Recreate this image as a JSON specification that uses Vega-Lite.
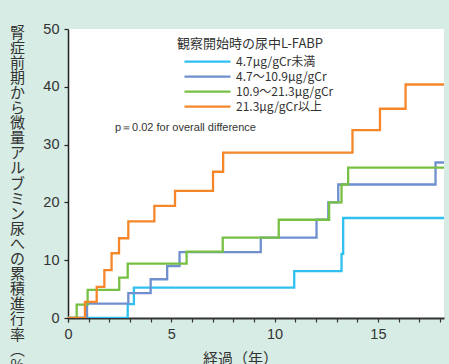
{
  "$schema": "https://vega.github.io/schema/vega-lite/v6.json",
  "autosize": "none",
  "width": 376,
  "height": 289,
  "padding": {"left": 68, "top": 29, "right": 5, "bottom": 46},
  "background": "#d7ece4",
  "config": {
    "view": {"fill": "white", "stroke": null},
    "font": "Liberation Sans"
  },
  "resolve": {"axis": {"x": "independent"}},
  "layer": [
    {
      "data": {
        "values": [
          {"group": "4.7μg/gCr未満", "t": 0, "v": 0},
          {"group": "4.7μg/gCr未満", "t": 2.89, "v": 2.4},
          {"group": "4.7μg/gCr未満", "t": 3.19, "v": 5.25},
          {"group": "4.7μg/gCr未満", "t": 10.95, "v": 8.1},
          {"group": "4.7μg/gCr未満", "t": 13.24, "v": 11.1},
          {"group": "4.7μg/gCr未満", "t": 13.32, "v": 17.3},
          {"group": "4.7μg/gCr未満", "t": 18.2, "v": 17.3},
          {"group": "4.7〜10.9μg/gCr", "t": 0, "v": 0},
          {"group": "4.7〜10.9μg/gCr", "t": 0.92, "v": 2.5},
          {"group": "4.7〜10.9μg/gCr", "t": 2.92, "v": 4.3},
          {"group": "4.7〜10.9μg/gCr", "t": 4.0, "v": 6.7},
          {"group": "4.7〜10.9μg/gCr", "t": 4.8, "v": 9.0},
          {"group": "4.7〜10.9μg/gCr", "t": 5.4, "v": 11.4},
          {"group": "4.7〜10.9μg/gCr", "t": 9.33, "v": 13.9},
          {"group": "4.7〜10.9μg/gCr", "t": 12.03, "v": 17.0},
          {"group": "4.7〜10.9μg/gCr", "t": 12.6, "v": 20.0},
          {"group": "4.7〜10.9μg/gCr", "t": 13.08, "v": 23.1},
          {"group": "4.7〜10.9μg/gCr", "t": 17.79, "v": 26.9},
          {"group": "4.7〜10.9μg/gCr", "t": 18.2, "v": 26.9},
          {"group": "10.9〜21.3μg/gCr", "t": 0, "v": 0},
          {"group": "10.9〜21.3μg/gCr", "t": 0.42, "v": 2.3},
          {"group": "10.9〜21.3μg/gCr", "t": 0.95, "v": 4.85},
          {"group": "10.9〜21.3μg/gCr", "t": 2.48, "v": 7.0},
          {"group": "10.9〜21.3μg/gCr", "t": 2.89, "v": 9.4},
          {"group": "10.9〜21.3μg/gCr", "t": 5.74, "v": 11.5},
          {"group": "10.9〜21.3μg/gCr", "t": 7.49, "v": 13.9},
          {"group": "10.9〜21.3μg/gCr", "t": 10.2, "v": 17.0},
          {"group": "10.9〜21.3μg/gCr", "t": 12.64, "v": 20.0},
          {"group": "10.9〜21.3μg/gCr", "t": 13.24, "v": 23.1},
          {"group": "10.9〜21.3μg/gCr", "t": 13.56, "v": 26.0},
          {"group": "10.9〜21.3μg/gCr", "t": 18.2, "v": 26.0},
          {"group": "21.3μg/gCr以上", "t": 0, "v": 0},
          {"group": "21.3μg/gCr以上", "t": 0.82, "v": 2.8},
          {"group": "21.3μg/gCr以上", "t": 1.39, "v": 5.4},
          {"group": "21.3μg/gCr以上", "t": 1.76, "v": 8.3},
          {"group": "21.3μg/gCr以上", "t": 2.11, "v": 11.2},
          {"group": "21.3μg/gCr以上", "t": 2.47, "v": 13.8},
          {"group": "21.3μg/gCr以上", "t": 2.92, "v": 16.7},
          {"group": "21.3μg/gCr以上", "t": 4.18, "v": 19.4},
          {"group": "21.3μg/gCr以上", "t": 5.18, "v": 22.0},
          {"group": "21.3μg/gCr以上", "t": 7.02, "v": 25.3},
          {"group": "21.3μg/gCr以上", "t": 7.51, "v": 28.6},
          {"group": "21.3μg/gCr以上", "t": 13.77, "v": 32.5},
          {"group": "21.3μg/gCr以上", "t": 15.1, "v": 36.2},
          {"group": "21.3μg/gCr以上", "t": 16.34, "v": 40.4},
          {"group": "21.3μg/gCr以上", "t": 18.2, "v": 40.4}
        ]
      },
      "mark": {"type": "line", "interpolate": "step-after", "strokeWidth": 2.3, "clip": true},
      "encoding": {
        "x": {
          "field": "t", "type": "quantitative",
          "scale": {"domain": [0, 18.2], "nice": false, "zero": false},
          "axis": {
            "orient": "bottom",
            "values": [0, 5, 10, 15],
            "format": "d",
            "labelOverlap": false,
            "grid": false,
            "domainColor": "#333333", "domainWidth": 1.8,
            "tickColor": "#333333", "tickWidth": 1.2, "tickSize": 4,
            "labelFontSize": 14.5, "labelColor": "#333333", "labelPadding": 5,
            "labelFlush": false,
            "title": "経過（年）",
            "titleFont": "Noto Sans CJK JP", "titleFontSize": 15, "titleFontWeight": "normal",
            "titleColor": "#333333",
            "titleX": 172, "titleY": 40, "titleBaseline": "middle", "titleAlign": "center"
          }
        },
        "y": {
          "field": "v", "type": "quantitative",
          "scale": {"domain": [0, 50], "nice": false},
          "axis": {
            "values": [0, 10, 20, 30, 40, 50],
            "grid": false,
            "domainColor": "#222222", "domainWidth": 1.5,
            "tickColor": "#222222", "tickWidth": 1.2, "tickSize": 4,
            "labelFontSize": 14.5, "labelColor": "#333333", "labelPadding": 5,
            "labelFlush": false,
            "title": ["腎","症","前","期","か","ら","微","量","ア","ル","ブ","ミ","ン","尿","へ","の","累","積","進","行","率","︵","%","︶"],
            "titleAngle": 0,
            "titleFont": "Noto Sans CJK JP", "titleFontSize": 15, "titleFontWeight": "normal",
            "titleColor": "#333333", "titleLineHeight": 15.1,
            "titleX": -51, "titleY": -4, "titleBaseline": "top", "titleAlign": "center"
          }
        },
        "color": {
          "field": "group", "type": "nominal",
          "scale": {
            "domain": ["4.7μg/gCr未満", "4.7〜10.9μg/gCr", "10.9〜21.3μg/gCr", "21.3μg/gCr以上"],
            "range": ["#2fc0ef", "#6f8fcf", "#78c043", "#f5872a"]
          },
          "legend": {
            "orient": "none", "legendX": 109, "legendY": 9,
            "title": "観察開始時の尿中L-FABP",
            "titleFont": "Noto Sans CJK JP", "titleFontSize": 13, "titleFontWeight": "normal",
            "titleColor": "#333333", "titlePadding": 5,
            "symbolType": "stroke", "symbolSize": 2116, "symbolStrokeWidth": 2.3,
            "symbolOffset": 6, "clipHeight": 11.3, "rowPadding": 2,
            "labelFont": "Noto Sans CJK JP", "labelFontSize": 12, "labelColor": "#333333",
            "labelOffset": 4, "padding": 0
          }
        }
      }
    },
    {
      "data": {"values": [{"t": 2.27, "v": 32.9, "label": "p＝0.02 for overall difference"}]},
      "mark": {"type": "text", "align": "left", "baseline": "middle", "fontSize": 11, "color": "#333333", "font": "Liberation Sans"},
      "encoding": {
        "x": {
          "field": "t", "type": "quantitative",
          "axis": {
            "orient": "bottom",
            "values": [0,1,2,3,4,6,7,8,9,11,12,13,14,16,17,18],
            "labels": false, "domain": false, "grid": false, "title": null,
            "tickColor": "#333333", "tickWidth": 1.2, "tickSize": 4
          }
        },
        "y": {"field": "v", "type": "quantitative"},
        "text": {"field": "label"}
      }
    }
  ]
}
